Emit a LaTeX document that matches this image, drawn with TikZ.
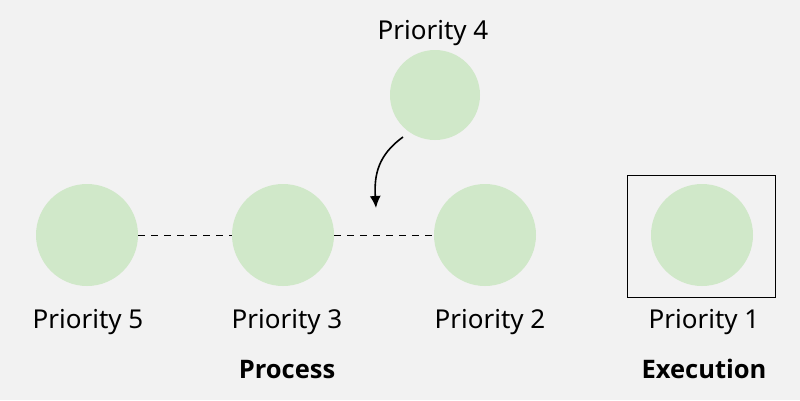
\documentclass[tikz,border=0pt]{standalone}
\usepackage{fontspec}
\setmainfont{Noto Sans}
\newfontfamily\headfont{Open Sans}
\usetikzlibrary{arrows.meta}
\definecolor{bg}{HTML}{F2F2F2}
\definecolor{circ}{HTML}{D0E8C9}
\begin{document}
\begin{tikzpicture}[x=1pt,y=-1pt,
  dot/.style={circle,fill=circ,minimum size=102pt,inner sep=0pt},
  lbl/.style={anchor=base,inner sep=0pt,font=\fontsize{26}{30}\selectfont},
  head/.style={anchor=base,inner sep=0pt,font=\headfont\fontsize{25.5}{30}\selectfont\bfseries},
  link/.style={dashed,dash pattern=on 7pt off 6pt,line width=1pt}]
\fill[bg] (0,0) rectangle (800,400);
\useasboundingbox (0,0) rectangle (800,400);
\node[dot] (c5) at (87,235) {};
\node[dot] (c3) at (283,235) {};
\node[dot] (c2) at (485,235) {};
\node[dot,minimum size=90pt] (c4) at (435,95) {};
\node[dot] (c1) at (702,235) {};
\node[draw,line width=1pt,minimum width=148pt,minimum height=122pt,inner sep=0pt] (box) at (701,236) {};
\draw[link] (c5) -- (c3);
\draw[link] (c3) -- (c2);
\coordinate (tip) at (376,208);
\draw[line width=1.6pt,-{Latex[length=12pt,width=11pt]}] (403,137) .. controls (378,155) and (374,175) .. (tip);
\node[lbl] (p5) at (88,328) {Priority 5};
\node[lbl] (p3) at (287,328) {Priority 3};
\node[lbl] (p2) at (490,328) {Priority 2};
\node[lbl] (p1) at (704,328) {Priority 1};
\node[lbl] (p4) at (433,39) {Priority 4};
\node[head] (proc) at (287,378) {Process};
\node[head] (exec) at (704,378) {Execution};
\end{tikzpicture}
\end{document}
